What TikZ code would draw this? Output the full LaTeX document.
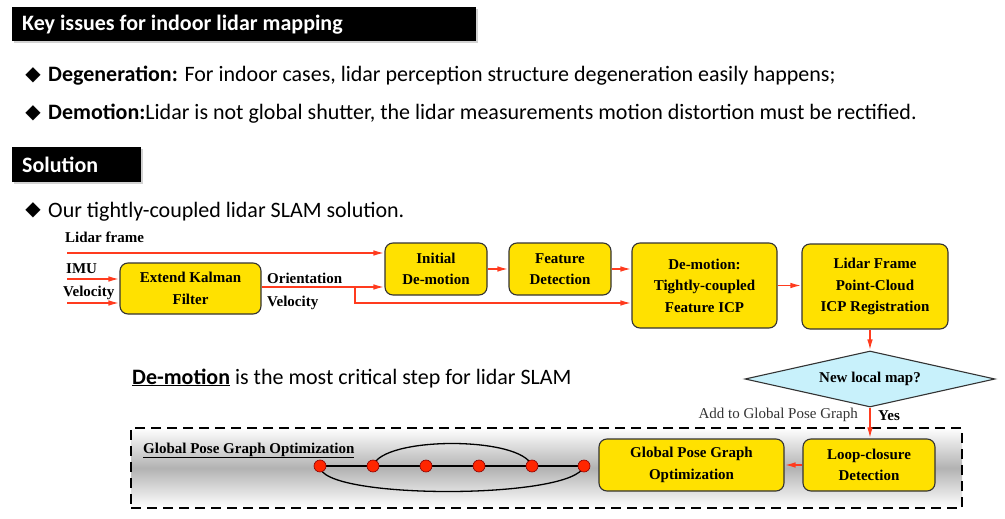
\documentclass[tikz,border=0pt]{standalone}
\usepackage{fontspec}
\setmainfont{Carlito}
\newfontfamily\flowfont{Liberation Serif}
\newfontfamily\symfont{DejaVu Sans}
\usetikzlibrary{arrows.meta,shapes.geometric,shadows}
\definecolor{boxyellow}{HTML}{FFE100}
\definecolor{arrred}{HTML}{FF3B1E}
\definecolor{mapcyan}{HTML}{C8F1FB}
\definecolor{dotred}{HTML}{FF2600}
\begin{document}
\begin{tikzpicture}[x=1pt,y=-1pt,
  titlebar/.style={fill=black, draw=none, inner sep=0, anchor=north west,
    drop shadow={shadow xshift=2pt,shadow yshift=-2pt,opacity=0.35}},
  titletext/.style={text=white, font=\bfseries\fontsize{22}{26}\selectfont, anchor=base west, inner sep=0},
  bullettext/.style={font=\fontsize{22}{26}\selectfont, anchor=base west, inner sep=0},
  bulletmark/.style={font=\symfont\fontsize{20}{22}\selectfont, anchor=center, inner sep=0},
  proc/.style={draw=black!80, line width=1.1pt, fill=boxyellow, rounded corners=8pt, align=center,
    font=\flowfont\bfseries\fontsize{15}{21.5}\selectfont, inner sep=0},
  flowlabel/.style={font=\flowfont\bfseries\fontsize{15}{18}\selectfont, inner sep=0, anchor=base west},
  flow/.style={draw=arrred, line width=1.6pt, -{Latex[length=11pt,width=5.5pt]}},
  gnode/.style={circle, fill=dotred, draw=red!55!black, line width=0.6pt, minimum size=12pt, inner sep=0},
  gedge/.style={draw=black, line width=1.3pt},
  frame/.style={draw=black, line width=2pt, dash pattern=on 10pt off 6pt, inner sep=0,
    top color=white, bottom color=white, middle color=black!30}
]
\useasboundingbox[fill=white] (0,0) rectangle (1005,519);

% title bars
\node[titlebar, minimum width=464pt, minimum height=34pt] (bar1) at (12,7) {};
\node[titletext] (bar1t) at (22,31) {Key issues for indoor lidar mapping};
\node[titlebar, minimum width=129pt, minimum height=35pt] (bar2) at (12,147) {};
\node[titletext] (bar2t) at (22,172) {Solution};

% bullets
\node[bulletmark] (m1) at (33,75) {◆};
\node[bullettext] (t1) at (48,82) {\textbf{Degeneration:} For indoor cases, lidar perception structure degeneration easily happens;};
\node[bulletmark] (m2) at (33,113) {◆};
\node[bullettext] (t2) at (48,120) {\textbf{Demotion:}Lidar is not global shutter, the lidar measurements motion distortion must be rectified.};
\node[bulletmark] (m3) at (33,210) {◆};
\node[bullettext] (t3) at (48,217) {Our tightly-coupled lidar SLAM solution.};

\node[bullettext] (crit) at (132,384) {\underline{\textbf{De-motion}} is the most critical step for lidar SLAM};

% flow boxes
\node[proc, minimum width=141pt, minimum height=51pt] (ekf) at (190.5,288.5) {Extend Kalman\\Filter};
\node[proc, minimum width=102pt, minimum height=52pt] (init) at (436,269) {Initial\\De-motion};
\node[proc, minimum width=102pt, minimum height=52pt] (feat) at (560,269) {Feature\\Detection};
\node[proc, minimum width=145pt, minimum height=85pt] (demo) at (704.5,285.5) {De-motion:\\Tightly-coupled\\Feature ICP};
\node[proc, minimum width=146pt, minimum height=85pt] (lfr) at (875,286.5) {Lidar Frame\\Point-Cloud\\ICP Registration};
\node[diamond, aspect=4.5, draw=black!80, line width=1.1pt, fill=mapcyan, minimum width=250pt, minimum height=56pt,
  inner sep=0, font=\flowfont\bfseries\fontsize{15}{18}\selectfont] (map) at (870,379) {New local map?};

% global pose graph frame
\node[frame, minimum width=831pt, minimum height=80pt] (gframe) at (546.5,468) {};
\node[font=\flowfont\bfseries\fontsize{15}{18}\selectfont, inner sep=0, anchor=base west] (gtitle) at (143,453) {\underline{Global Pose Graph Optimization}};
\node[proc, minimum width=185pt, minimum height=52pt] (gpg) at (691.5,465) {Global Pose Graph\\Optimization};
\node[proc, minimum width=132pt, minimum height=52pt] (lcd) at (869,465) {Loop-closure\\Detection};

% labels
\node[flowlabel] (lLidar) at (65,242) {Lidar frame};
\node[flowlabel] (lIMU) at (66,273) {IMU};
\node[flowlabel] (lVel) at (63,296) {Velocity};
\node[flowlabel] (lOri) at (267,283) {Orientation};
\node[flowlabel] (lVel2) at (267,306) {Velocity};
\node[flowlabel, anchor=west] (lYes) at (878,416) {Yes};
\node[font=\flowfont\fontsize{15}{18}\selectfont, text=black!80, inner sep=0, anchor=east] (lAdd) at (858,415) {Add to Global Pose Graph};

% connectors
\coordinate (sLidar) at (67,253);
\coordinate (sIMU) at (67,279);
\coordinate (sVel) at (67,303);
\coordinate (split) at (355,287);
\coordinate (splitlow) at (355,303);
\draw[flow] (sLidar) -- (sLidar -| init.west);
\draw[flow] (sIMU) -- (sIMU -| ekf.west);
\draw[flow] (sVel) -- (sVel -| ekf.west);
\draw[flow] (ekf.east |- split) -- (split -| init.west);
\draw[flow] (split) -- (splitlow) -- (splitlow -| demo.west);
\draw[flow] (init.east) -- (feat.west);
\draw[flow] (feat.east) -- (feat.east -| demo.west);
\draw[flow] (demo.east) -- (demo.east -| lfr.west);
\draw[flow] (lfr.south -| map.north) -- (map.north);
\draw[flow] (map.south) -- (map.south |- lcd.north);
\draw[flow] (lcd.west) -- (gpg.east);

% pose graph
\coordinate (gp1) at (320,466);
\coordinate (gp2) at (373,466);
\coordinate (gp3) at (426,466);
\coordinate (gp4) at (479,466);
\coordinate (gp5) at (532,466);
\coordinate (gp6) at (584,466);
\draw[gedge] (gp1) -- (gp6);
\draw[gedge] (gp2) .. controls (382,436) and (522,436) .. (gp5);
\draw[gedge] (gp1) .. controls (318,500) and (575,500) .. (gp6);
\node[gnode] (g1) at (gp1) {};
\node[gnode] (g2) at (gp2) {};
\node[gnode] (g3) at (gp3) {};
\node[gnode] (g4) at (gp4) {};
\node[gnode] (g5) at (gp5) {};
\node[gnode] (g6) at (gp6) {};
\end{tikzpicture}
\end{document}
